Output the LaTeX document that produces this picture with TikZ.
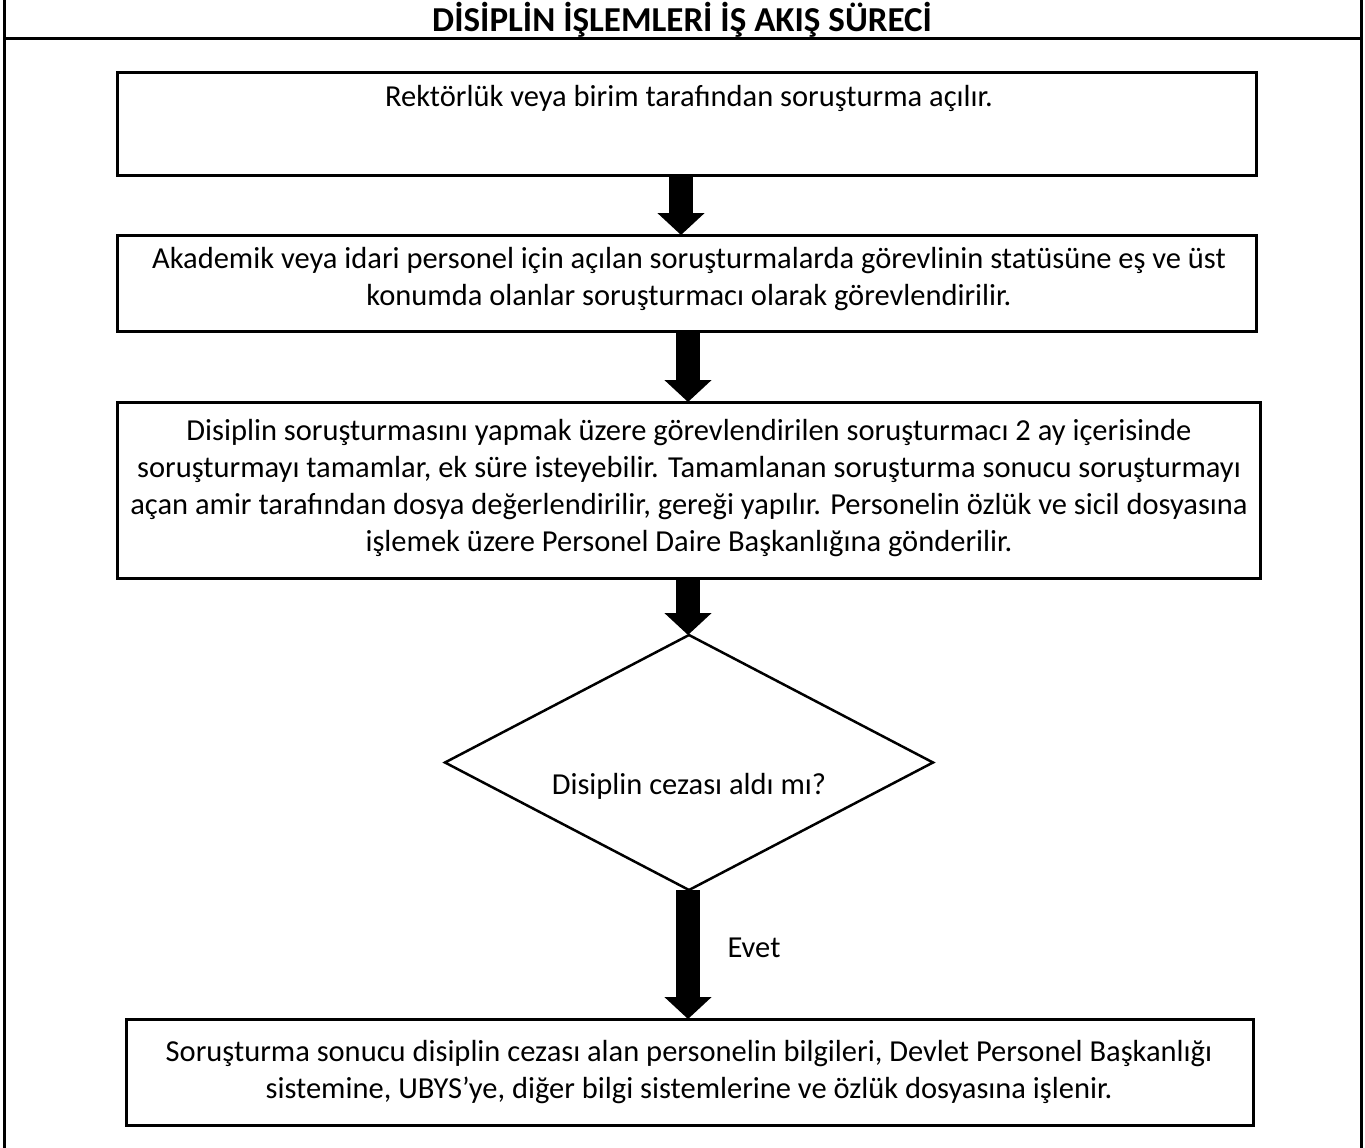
\documentclass[tikz,border=0pt]{standalone}
\usepackage{fontspec}
\setmainfont{Carlito}
\usetikzlibrary{shapes.geometric,arrows.meta,calc}
\begin{document}
\begin{tikzpicture}[x=1pt,y=-1pt,
  box/.style={draw,line width=3pt,outer sep=0pt,inner sep=0pt,anchor=north west},
  txt/.style={align=center,font=\fontsize{30.5}{37}\selectfont,inner sep=0pt},
  blk/.style={line width=24pt,-{Triangle[width=46pt,length=22pt]}},
  frame/.style={line width=3pt}]
\useasboundingbox (0,0) rectangle (1365,1148);
% frame
\draw[frame] (4,-5) -- (4,1150);
\draw[frame] (1361,-5) -- (1361,1150);
\draw[frame] (4,39) -- (1361,39);
\node[font=\fontsize{35}{38}\selectfont\bfseries,inner sep=0pt] (title) at (682,20) {DİSİPLİN İŞLEMLERİ İŞ AKIŞ SÜRECİ};
% boxes
\node[box,minimum width=1139pt,minimum height=102pt] (b1) at (117,73) {};
\node[txt] (t1) at (689,98) {Rektörlük veya birim tarafından soruşturma açılır.};
\node[box,minimum width=1139pt,minimum height=96pt] (b2) at (117,235) {};
\node[txt] (t2) at (689,279) {Akademik veya idari personel için açılan soruşturmalarda görevlinin statüsüne eş ve üst\\konumda olanlar soruşturmacı olarak görevlendirilir.};
\node[box,minimum width=1143pt,minimum height=176pt] (b3) at (117,402) {};
\node[txt] (t3) at (689,488) {Disiplin soruşturmasını yapmak üzere görevlendirilen soruşturmacı 2 ay içerisinde\\soruşturmayı tamamlar, ek süre isteyebilir. Tamamlanan soruşturma sonucu soruşturmayı\\açan amir tarafından dosya değerlendirilir, gereği yapılır. Personelin özlük ve sicil dosyasına\\işlemek üzere Personel Daire Başkanlığına gönderilir.};
\node[diamond,draw,line width=2.5pt,outer sep=0pt,inner sep=0pt,minimum width=488pt,minimum height=255pt,aspect=1.91] (d) at (689,762.5) {};
\node[txt] (td) at (689,786) {Disiplin cezası aldı mı?};
\node[box,minimum width=1127pt,minimum height=106pt] (b4) at (126,1019) {};
\node[txt] (t4) at (689,1072) {Soruşturma sonucu disiplin cezası alan personelin bilgileri, Devlet Personel Başkanlığı\\sistemine, UBYS’ye, diğer bilgi sistemlerine ve özlük dosyasına işlenir.};
% arrows
\coordinate (a1) at (681,0);
\coordinate (a2) at (688,0);
\draw[blk] (b1.south -| a1) -- (b2.north -| a1);
\draw[blk] (b2.south -| a2) -- (b3.north -| a2);
\draw[blk] (b3.south -| a2) -- (d.north -| a2);
\draw[blk] (d.south -| a2) -- (b4.north -| a2);
\node[txt,anchor=center] (evet) at (754,948) {Evet};
\end{tikzpicture}
\end{document}
